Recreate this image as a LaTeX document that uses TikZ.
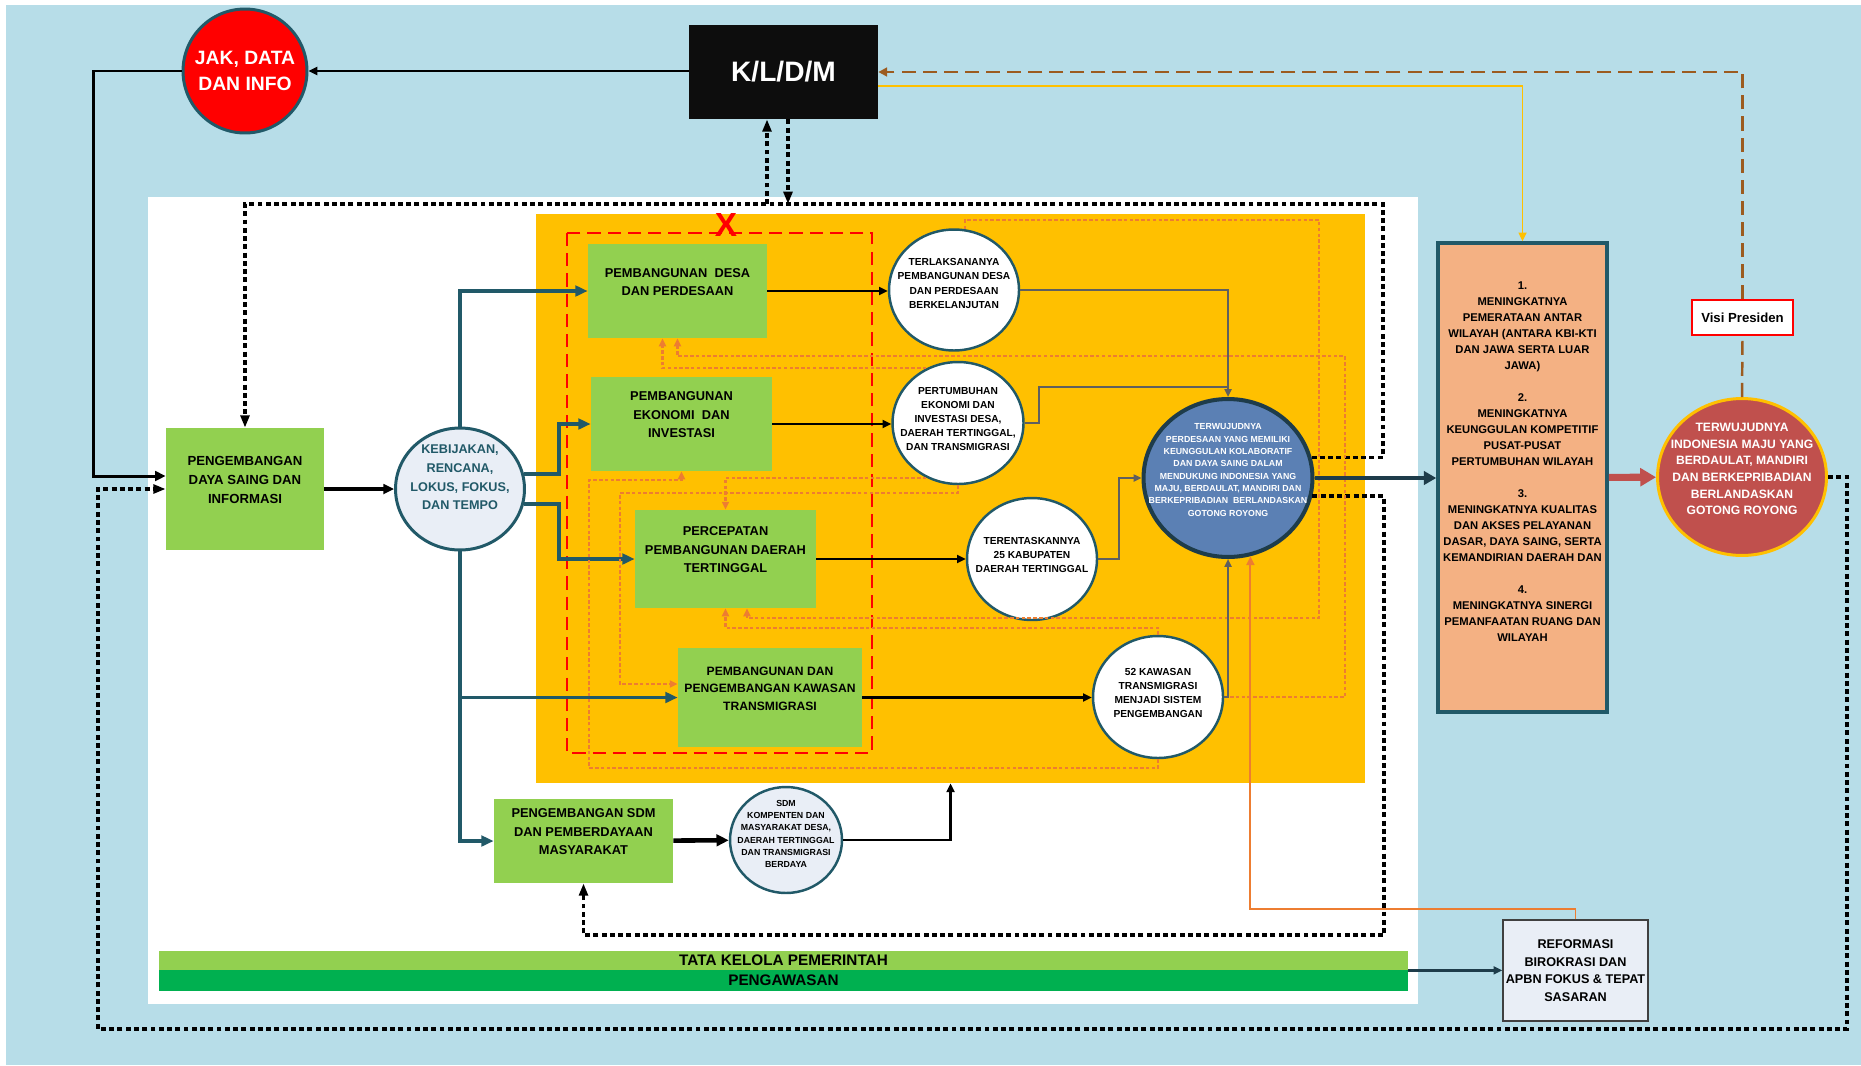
\documentclass[tikz,border=0pt]{standalone}
\usepackage{fontspec}
\setmainfont{Liberation Sans}
\usetikzlibrary{arrows.meta,shapes.geometric}

\definecolor{bgblue}{HTML}{B7DDE8}
\definecolor{progyellow}{HTML}{FFC000}
\definecolor{boxgreen}{HTML}{92D050}
\definecolor{darkgreen}{HTML}{00B050}
\definecolor{peach}{HTML}{F4B183}
\definecolor{tealline}{HTML}{215968}
\definecolor{slateline}{HTML}{1E3C4A}
\definecolor{wujudblue}{HTML}{5B80B4}
\definecolor{visired}{HTML}{C0504D}
\definecolor{fborange}{HTML}{ED7D31}
\definecolor{vpbrown}{HTML}{9C5B1F}
\definecolor{greyline}{HTML}{5F5F5F}
\definecolor{paleblue}{HTML}{E9EEF6}

\tikzset{
  greenbox/.style={rectangle,fill=boxgreen,inner sep=0pt,align=center,
    font=\fontsize{7.3}{10.5}\selectfont\bfseries},
  outcome/.style={ellipse,fill=white,draw=tealline,line width=1.4pt,inner sep=0pt},
  outtext/.style={align=center,inner sep=0pt,font=\fontsize{5.8}{8.1}\selectfont\bfseries},
  tealarrow/.style={draw=tealline,line width=2pt,-{Triangle[length=7pt,width=6pt]}},
  blackarrow/.style={draw=black,line width=1.4pt,-{Triangle[length=5pt,width=4.5pt]}},
  greyarrow/.style={draw=greyline,line width=1.1pt,-{Triangle[length=4.5pt,width=4pt]}},
  fbline/.style={draw=fborange,line width=1.3pt,dash pattern=on 2pt off 1.3pt,-{Triangle[length=4.5pt,width=4pt]}},
  loopline/.style={draw=black,line width=1.9pt,dash pattern=on 2.8pt off 1.9pt,-{Triangle[length=7pt,width=5pt]}}
}

\begin{document}
\begin{tikzpicture}[x=0.02cm,y=-0.02cm]
\useasboundingbox (0,0) rectangle (1861,1065);
\fill[bgblue] (6,5) rectangle (1861,1065);
\fill[white] (148,197) rectangle (1418,1004);
\node[fill=progyellow,inner sep=0pt,minimum width=16.58cm,minimum height=11.38cm] (prog) at (950.5,498.5) {};
\draw[red,line width=1.4pt,dash pattern=on 7.5pt off 4pt] (567,233) rectangle (872,753);
\node[text=red,inner sep=0pt,font=\fontsize{19}{19}\selectfont\bfseries] (xmark) at (726,225) {X};

\node[circle,fill=red,draw=tealline,line width=1.7pt,minimum size=2.48cm,inner sep=0pt] (jak) at (245,71) {};
\node[text=white,align=center,inner sep=0pt,font=\fontsize{11}{15}\selectfont\bfseries] (jak-t) at (245,71) {JAK, DATA\\DAN INFO};
\node[fill=black!95,minimum width=3.78cm,minimum height=1.88cm,text=white,font=\fontsize{16}{16}\selectfont\bfseries] (kldm) at (783.5,72) {K/L/D/M};

\node[greenbox,minimum width=3.16cm,minimum height=2.44cm,font=\fontsize{7.5}{10.8}\selectfont\bfseries] (pdsi) at (245,489) {PENGEMBANGAN\\DAYA SAING DAN\\INFORMASI\\\mbox{}};
\node[ellipse,fill=paleblue,draw=tealline,line width=1.7pt,minimum width=2.58cm,minimum height=2.44cm,inner sep=0pt] (kebij) at (460,489) {};
\node[align=center,inner sep=0pt,text=tealline,font=\fontsize{7.2}{10.6}\selectfont\bfseries] (kebij-t) at (460,477.5) {KEBIJAKAN,\\RENCANA,\\LOKUS, FOKUS,\\DAN TEMPO};

\node[greenbox,minimum width=3.58cm,minimum height=1.88cm] (desa) at (677.5,291) {PEMBANGUNAN~ DESA\\DAN PERDESAAN\\\mbox{}};
\node[greenbox,minimum width=3.62cm,minimum height=1.88cm] (ekonomi) at (681.5,424) {PEMBANGUNAN\\EKONOMI~ DAN\\INVESTASI\\\mbox{}};
\node[greenbox,minimum width=3.62cm,minimum height=1.96cm] (percep) at (725.5,559) {PERCEPATAN\\PEMBANGUNAN DAERAH\\TERTINGGAL\\\mbox{}};
\node[greenbox,minimum width=3.68cm,minimum height=1.98cm,font=\fontsize{6.9}{10}\selectfont\bfseries] (transm) at (770,697.5) {PEMBANGUNAN DAN\\PENGEMBANGAN KAWASAN\\TRANSMIGRASI\\\mbox{}};
\node[greenbox,minimum width=3.58cm,minimum height=1.68cm] (sdmbox) at (583.5,841) {PENGEMBANGAN SDM\\DAN PEMBERDAYAAN\\MASYARAKAT\\\mbox{}};

\node[outcome,minimum width=2.6cm,minimum height=2.42cm] (terl) at (954,290) {};
\node[outtext] (terl-t) at (954,283.5) {TERLAKSANANYA\\PEMBANGUNAN DESA\\DAN PERDESAAN\\BERKELANJUTAN};
\node[outcome,minimum width=2.62cm,minimum height=2.44cm] (pert) at (958,423) {};
\node[outtext] (pert-t) at (958,419) {PERTUMBUHAN\\EKONOMI DAN\\INVESTASI DESA,\\DAERAH TERTINGGAL,\\DAN TRANSMIGRASI};
\node[outcome,minimum width=2.6cm,minimum height=2.44cm] (terent) at (1032,559) {};
\node[outtext] (terent-t) at (1032,555) {TERENTASKANNYA\\25 KABUPATEN\\DAERAH TERTINGGAL};
\node[outcome,minimum width=2.6cm,minimum height=2.44cm] (kaw52) at (1158,697) {};
\node[outtext] (kaw52-t) at (1158,693) {52 KAWASAN\\TRANSMIGRASI\\MENJADI SISTEM\\PENGEMBANGAN};

\node[ellipse,fill=wujudblue,draw=slateline,line width=2.3pt,minimum width=3.38cm,minimum height=3.16cm,inner sep=0pt] (wujud) at (1228,478) {};
\node[align=center,inner sep=0pt,text=white,font=\fontsize{5}{7.05}\selectfont\bfseries] (wujud-t) at (1228,470) {TERWUJUDNYA\\PERDESAAN YANG MEMILIKI\\KEUNGGULAN KOLABORATIF\\DAN DAYA SAING DALAM\\MENDUKUNG INDONESIA YANG\\MAJU, BERDAULAT, MANDIRI DAN\\BERKEPRIBADIAN~ BERLANDASKAN\\GOTONG ROYONG};

\node[rectangle,fill=peach,draw=tealline,line width=2pt,minimum width=3.38cm,minimum height=9.38cm,inner sep=0pt,align=center,font=\fontsize{6.4}{9.1}\selectfont\bfseries] (sasaran) at (1522.5,477.5) {1.\\MENINGKATNYA\\PEMERATAAN ANTAR\\WILAYAH (ANTARA KBI-KTI\\DAN JAWA SERTA LUAR\\JAWA)\\\mbox{}\\2.\\MENINGKATNYA\\KEUNGGULAN KOMPETITIF\\PUSAT-PUSAT\\PERTUMBUHAN WILAYAH\\\mbox{}\\3.\\MENINGKATNYA KUALITAS\\DAN AKSES PELAYANAN\\DASAR, DAYA SAING, SERTA\\KEMANDIRIAN DAERAH DAN\\\mbox{}\\4.\\MENINGKATNYA SINERGI\\PEMANFAATAN RUANG DAN\\WILAYAH\\\mbox{}\\\mbox{}};

\node[ellipse,fill=visired,draw=progyellow,line width=1.7pt,minimum width=3.38cm,minimum height=3.14cm,inner sep=0pt] (visi) at (1742,477) {};
\node[align=center,inner sep=0pt,text=white,font=\fontsize{6.9}{9.5}\selectfont\bfseries] (visi-t) at (1742,469) {TERWUJUDNYA\\INDONESIA MAJU YANG\\BERDAULAT, MANDIRI\\DAN BERKEPRIBADIAN\\BERLANDASKAN\\GOTONG ROYONG};
\node[fill=white,draw=red,line width=0.9pt,minimum width=2.02cm,minimum height=0.7cm,inner sep=0pt,font=\fontsize{7.5}{9}\selectfont\bfseries] (vp) at (1742.5,317.5) {Visi Presiden};

\node[ellipse,fill=paleblue,draw=tealline,line width=1.4pt,minimum width=2.24cm,minimum height=2.12cm,inner sep=0pt] (sdmc) at (786,840) {};
\node[align=center,inner sep=0pt,font=\fontsize{5}{7}\selectfont\bfseries] (sdmc-t) at (786,834) {SDM\\KOMPENTEN DAN\\MASYARAKAT DESA,\\DAERAH TERTINGGAL\\DAN TRANSMIGRASI\\BERDAYA};

\node[fill=paleblue,draw=black!75,line width=0.8pt,minimum width=2.9cm,minimum height=2.02cm,inner sep=0pt,align=center,font=\fontsize{7.2}{10}\selectfont\bfseries] (reform) at (1575.5,970.5) {REFORMASI\\BIROKRASI DAN\\APBN FOKUS \& TEPAT\\SASARAN};
\node[fill=boxgreen,minimum width=24.98cm,minimum height=0.38cm,inner sep=0pt,font=\fontsize{8.7}{9}\selectfont\bfseries] (tata) at (783.5,960.5) {TATA KELOLA PEMERINTAH};
\node[fill=darkgreen,minimum width=24.98cm,minimum height=0.42cm,inner sep=0pt,font=\fontsize{8.7}{9}\selectfont\bfseries] (pengaw) at (783.5,980.5) {PENGAWASAN};

\coordinate (loopse) at (1847,1029);
\coordinate (loopsw) at (98,1029);
\coordinate (loopne) at (1383,204);
\coordinate (loopmid) at (1384,935);
\coordinate (kup) at ([xshift=-0.33cm]kldm.south);
\coordinate (kdown) at ([xshift=0.09cm]kldm.south);
\coordinate (fba) at (589,768);
\coordinate (fbb) at (620,493);
\coordinate (fbd) at (1345,356);
\coordinate (fbf) at (1319,220);
\coordinate (fbg) at (1319,618);

\draw[blackarrow] (kldm.west |- jak) -- (jak);
\draw[line width=1.7pt,-{Triangle[length=6pt,width=5.5pt]}] (jak.west) -- ++(-88,0) |- ([yshift=0.26cm]pdsi.west);
\draw[loopline] (visi.east) -| (loopse) -- (loopsw) |- (pdsi.west);
\draw[loopline] (wujud.14) -| (loopne) -| (pdsi.north);
\draw[loopline] (wujud.-12) -| (loopmid) -| (sdmbox.south);
\draw[loopline] (kup |- loopne) -- (kup);
\draw[loopline] (kdown) -- (kdown |- loopne);

\draw[line width=2.3pt,-{Triangle[length=6pt,width=5.5pt]}] (pdsi) -- (kebij);
\draw[tealarrow] (kebij.north) |- (desa.west);
\draw[tealarrow] (kebij.13) -- ++(35,0) |- (ekonomi.west);
\draw[tealarrow] (kebij.-13) -- ++(35,0) |- (percep.west);
\draw[tealarrow] (kebij.south) |- (transm.west);
\draw[tealarrow] (kebij.south) |- (sdmbox.west);

\draw[blackarrow] (desa.east) -- (desa.east -| terl.west);
\draw[blackarrow] (ekonomi.east) -- (ekonomi.east -| pert.west);
\draw[blackarrow] (percep.east) -- (percep.east -| terent.west);
\draw[blackarrow] (transm.east) -- (transm.east -| kaw52.west);

\draw[fbline] (kaw52.south) |- (fba) |- ([yshift=-0.18cm]ekonomi.south) -- (ekonomi.south);
\draw[fbline] (pert.south) |- (fbb) |- ([yshift=0.27cm]transm.west);
\draw[fbline] (pert.240) -| (percep.north);
\draw[fbline] (kaw52.east) -| (fbd) -| (desa.south);
\draw[fbline] (pert.120) -| ([xshift=-0.3cm]desa.south);
\draw[fbline] (terl.80) |- (fbf) -- (fbg) -| ([xshift=0.43cm]percep.south);
\draw[fbline] (kaw52.north) -- ++(0,-7) -| (percep.south);

\draw[greyarrow] (terl.east) -| (wujud.north);
\draw[greyline,line width=1.1pt] (pert.east) -- ++(14,0) |- ([yshift=0.2cm]wujud.north);
\draw[greyarrow] (terent.east) -- ++(21,0) |- (wujud.west);
\draw[greyarrow] (kaw52.east) -| (wujud.south);

\draw[fborange,line width=1.1pt,-{Triangle[length=5pt,width=4.5pt]}] (reform.north) -- ++(0,-10) -| (wujud.-74);
\draw[progyellow,line width=1.1pt,-{Triangle[length=5pt,width=4.5pt]}] ([yshift=-0.28cm]kldm.east) -| (sasaran.north);
\draw[vpbrown,line width=1.4pt,dash pattern=on 8pt off 4pt] (visi.north) -- (vp.south);
\draw[vpbrown,line width=1.4pt,dash pattern=on 8pt off 4pt,-{Triangle[length=5pt,width=5pt]}] (vp.north) |- (kldm.east);

\draw[slateline,line width=2.6pt,-{Triangle[length=7pt,width=7.5pt]}] (wujud.east) -- (wujud.east -| sasaran.west);
\draw[visired,line width=4pt,-{Triangle[length=9pt,width=10pt]}] (sasaran) -- (visi);
\draw[line width=2.6pt,-{Triangle[length=7pt,width=6.5pt]}] (sdmbox) -- (sdmc);
\draw[blackarrow] (sdmc.east) -| (prog.south);
\draw[slateline,line width=1.7pt,-{Triangle[length=5pt,width=4.5pt]}] (tata.south east) -- (tata.south east -| reform.west);
\end{tikzpicture}
\end{document}
